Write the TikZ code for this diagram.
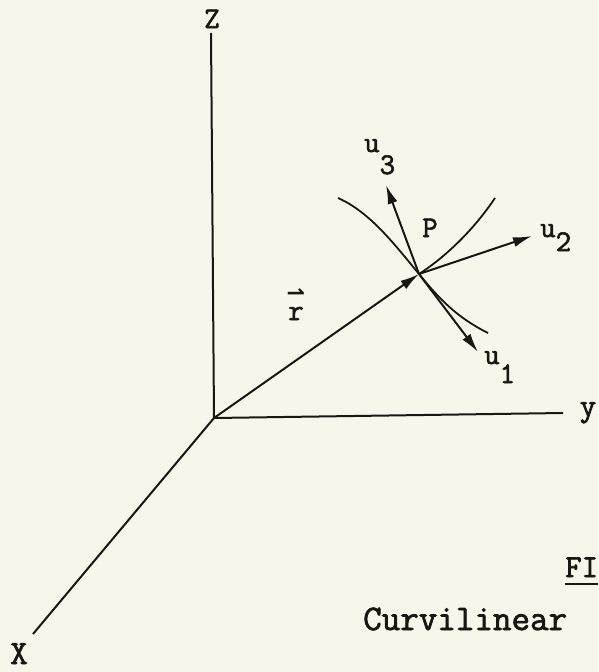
\documentclass[tikz,border=0pt]{standalone}
\usepackage{fontspec}
\newfontfamily\twfont{Latin Modern Mono}[FakeBold=2]
\newfontfamily\symfont{DejaVu Sans}
\usetikzlibrary{arrows.meta}
\definecolor{paper}{RGB}{248,246,234}
\definecolor{ink}{RGB}{25,22,20}
\begin{document}
\begin{tikzpicture}[x=1pt,y=-1pt,
  axis/.style={ink,line width=2pt},
  vecarrow/.style={ink,line width=2pt,-{Latex[length=19pt,width=10pt]}},
  curveline/.style={ink,line width=1.8pt},
  lbl/.style={ink,inner sep=0pt,font=\fontsize{30}{36}\selectfont\twfont},
  captxt/.style={ink,inner sep=0pt,font=\fontsize{36}{42}\selectfont\twfont}]
\fill[paper] (0,0) rectangle (598,672);
\useasboundingbox (0,0) rectangle (598,672);
\coordinate (O) at (214,418);
\coordinate (Ztop) at (211,33);
\coordinate (Yend) at (563,413);
\coordinate (Xend) at (33,634);
\coordinate (P) at (419,274);
\coordinate (U1) at (478,352);
\coordinate (U2) at (532,236);
\coordinate (U3) at (386,185);
\coordinate (CAs) at (338,198);
\coordinate (CAe) at (488,333);
\coordinate (CBe) at (495,198);
% axes
\draw[axis] (O) -- (Ztop);
\draw[axis] (O) -- (Yend);
\draw[axis] (O) -- (Xend);
% coordinate curves
\draw[curveline] (CAs) .. controls (370,212) and (395,245) .. (P)
  .. controls (440,300) and (458,318) .. (CAe);
\draw[curveline] (P) .. controls (447,256) and (475,228) .. (CBe);
% vectors
\draw[vecarrow] (O) -- (P);
\draw[vecarrow] (P) -- (U1);
\draw[vecarrow] (P) -- (U2);
\draw[vecarrow] (P) -- (U3);
% labels
\node[lbl,anchor=base] (zl) at (212,28) {Z};
\node[lbl,anchor=base,font=\fontsize{34}{40}\selectfont\twfont] (xl) at (19,664) {X};
\node[lbl,anchor=base,font=\fontsize{32}{38}\selectfont\twfont] (yl) at (588,416) {y};
\node[lbl,anchor=base] (pl) at (430,237) {P};
\node[lbl,anchor=base] (rl) at (296,320)
  {r\llap{\makebox[15.75pt][c]{\raisebox{20pt}{\fontsize{22}{22}\selectfont\symfont\bfseries ⇀}}}};
\node[lbl,anchor=base west] (u3l) at (364,152) {u\raisebox{-22pt}{3}};
\node[lbl,anchor=base west] (u2l) at (540,237) {u\raisebox{-14pt}{2}};
\node[lbl,anchor=base west] (u1l) at (484,364) {u\raisebox{-19pt}{1}};
\node[lbl,anchor=base west,font=\fontsize{32}{38}\selectfont\twfont] (fig) at (565,577) {FI};
\draw[ink,line width=2pt] (565,584) -- (598,584);
\node[captxt,anchor=base west] (cv) at (363,630) {Curvilinear};
\end{tikzpicture}
\end{document}
